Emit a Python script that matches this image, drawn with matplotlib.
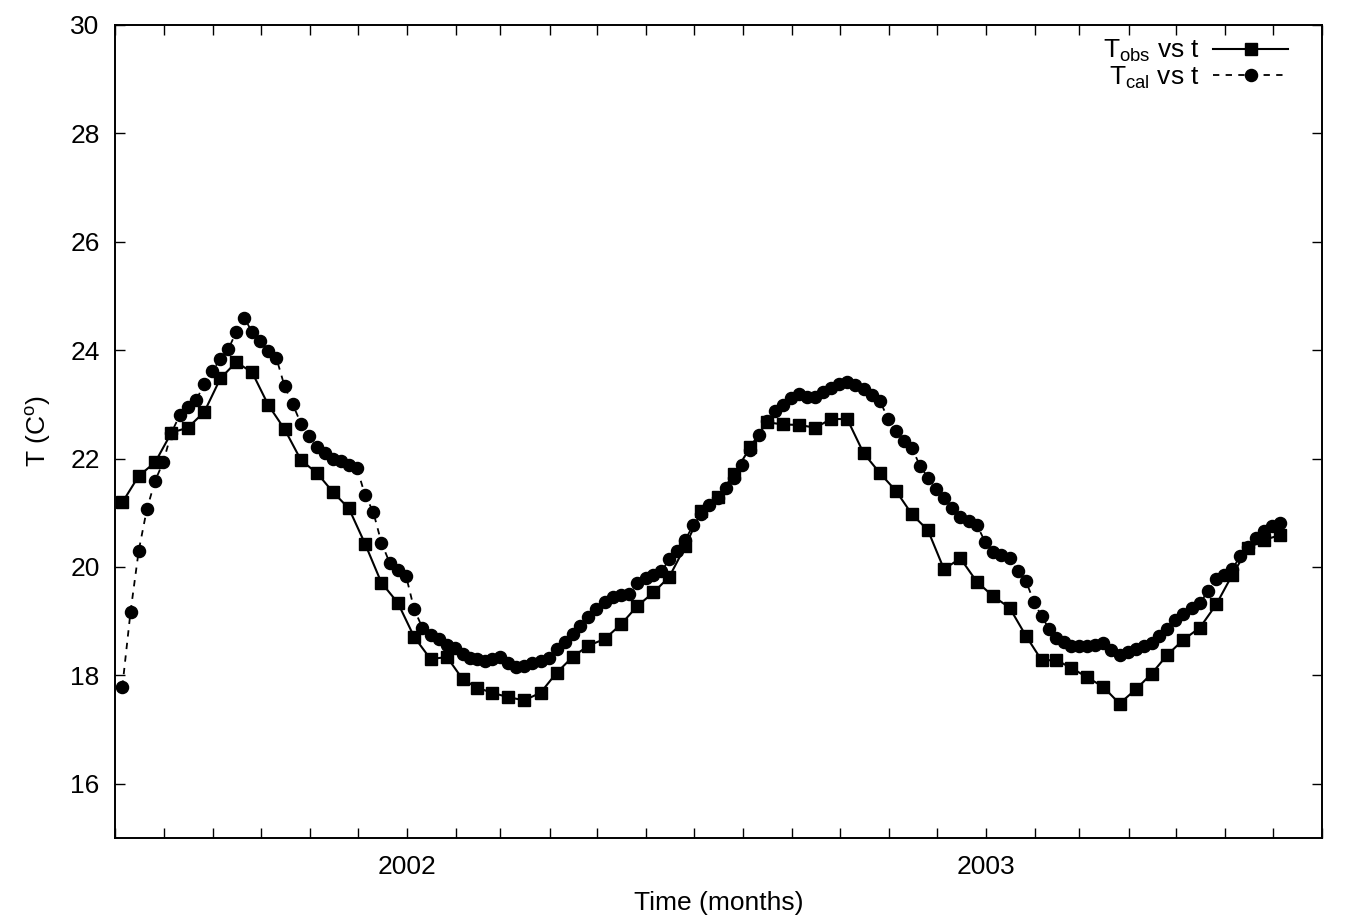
import matplotlib
matplotlib.use("Agg")
import matplotlib.pyplot as plt
import matplotlib.dates as mdates
import pandas as pd

plt.rcParams['font.family'] = ['Liberation Sans', 'DejaVu Sans']
plt.rcParams['mathtext.default'] = 'regular'

# observed temperature, one value per dekad (3 per month), from early Jul 2001
t_obs = [
    21.19, 21.68, 21.93, 22.48, 22.57, 22.86, 23.48, 23.78, 23.59, 22.99,
    22.54, 21.97, 21.73, 21.38, 21.08, 20.43, 19.71, 19.34, 18.71, 18.30,
    18.34, 17.93, 17.77, 17.68, 17.60, 17.54, 17.68, 18.05, 18.34, 18.55,
    18.67, 18.94, 19.28, 19.53, 19.82, 20.38, 21.03, 21.30, 21.71, 22.22,
    22.67, 22.63, 22.62, 22.57, 22.73, 22.73, 22.10, 21.73, 21.40, 20.97,
    20.68, 19.96, 20.16, 19.73, 19.46, 19.25, 18.73, 18.28, 18.28, 18.14,
    17.97, 17.79, 17.48, 17.74, 18.03, 18.38, 18.66, 18.88, 19.31, 19.86,
    20.35, 20.50, 20.59,
]

# calculated temperature, one value per pentad (6 per month)
t_cal = [
    17.79, 19.17, 20.30, 21.07, 21.59, 21.94, 22.48, 22.80, 22.96, 23.08,
    23.37, 23.62, 23.84, 24.02, 24.34, 24.60, 24.33, 24.17, 23.99, 23.85,
    23.33, 23.00, 22.64, 22.41, 22.22, 22.10, 22.00, 21.95, 21.89, 21.83,
    21.33, 21.02, 20.45, 20.08, 19.94, 19.84, 19.22, 18.88, 18.75, 18.67,
    18.57, 18.51, 18.40, 18.32, 18.30, 18.26, 18.30, 18.34, 18.22, 18.16,
    18.18, 18.22, 18.26, 18.32, 18.48, 18.61, 18.77, 18.91, 19.08, 19.22,
    19.36, 19.45, 19.48, 19.51, 19.70, 19.80, 19.86, 19.92, 20.14, 20.30,
    20.50, 20.77, 20.98, 21.15, 21.28, 21.46, 21.65, 21.88, 22.15, 22.43,
    22.70, 22.87, 22.99, 23.11, 23.19, 23.14, 23.14, 23.22, 23.30, 23.37,
    23.42, 23.36, 23.29, 23.17, 23.06, 22.73, 22.51, 22.32, 22.19, 21.87,
    21.65, 21.44, 21.28, 21.08, 20.93, 20.85, 20.78, 20.47, 20.28, 20.22,
    20.17, 19.92, 19.74, 19.35, 19.09, 18.86, 18.69, 18.61, 18.54, 18.54,
    18.54, 18.57, 18.59, 18.46, 18.38, 18.43, 18.48, 18.54, 18.59, 18.73,
    18.85, 19.02, 19.13, 19.24, 19.33, 19.56, 19.77, 19.86, 19.96, 20.21,
    20.37, 20.54, 20.66, 20.76, 20.82,
]

months = pd.date_range('2001-07-01', '2003-07-01', freq='MS')


def sub_month_dates(per_month, count):
    """Dates spread evenly inside each month, per_month steps."""
    out = []
    for m in months:
        ndays = m.days_in_month
        for k in range(per_month):
            out.append(m + pd.Timedelta(days=(k / per_month + 0.15) * ndays))
    return out[:count]


obs_dates = sub_month_dates(3, len(t_obs))
cal_dates = sub_month_dates(6, len(t_cal))

fs = 19

fig = plt.figure(figsize=(13.7, 9.21), dpi=100)
ax = fig.add_axes([0.0839, 0.0901, 0.8811, 0.8828])

ax.plot(obs_dates, t_obs, color='black', linewidth=1.5, marker='s',
        markersize=8.5, label='T$_{obs}$ vs t')
ax.plot(cal_dates, t_cal, color='black', linewidth=1.3, linestyle=(0, (3.5, 3.5)),
        marker='o', markersize=8.7, label='T$_{cal}$ vs t')

ax.set_xlim(pd.Timestamp('2001-07-01'), pd.Timestamp('2003-08-01'))
ax.set_ylim(15, 30)
ax.set_yticks(range(16, 31, 2))

ax.xaxis.set_major_locator(mdates.MonthLocator(bymonth=1))
ax.xaxis.set_major_formatter(mdates.DateFormatter('%Y'))
ax.xaxis.set_minor_locator(mdates.MonthLocator())

ax.tick_params(which='both', direction='in', top=True, right=True,
               length=7, width=1.0, labelsize=fs)
ax.tick_params(axis='x', pad=12)
ax.tick_params(axis='y', pad=11)
for s in ax.spines.values():
    s.set_linewidth(1.4)

ax.set_xlabel('Time (months)', fontsize=fs, labelpad=9)
ax.set_ylabel('T (C$^{o}$)', fontsize=fs, labelpad=12)

ax.legend(loc='upper right', frameon=False, markerfirst=False, fontsize=fs,
          handlelength=2.85, handletextpad=0.5, labelspacing=0.0,
          borderaxespad=0.1, bbox_to_anchor=(0.983, 1.0))

fig.savefig('out.png', dpi=100)
